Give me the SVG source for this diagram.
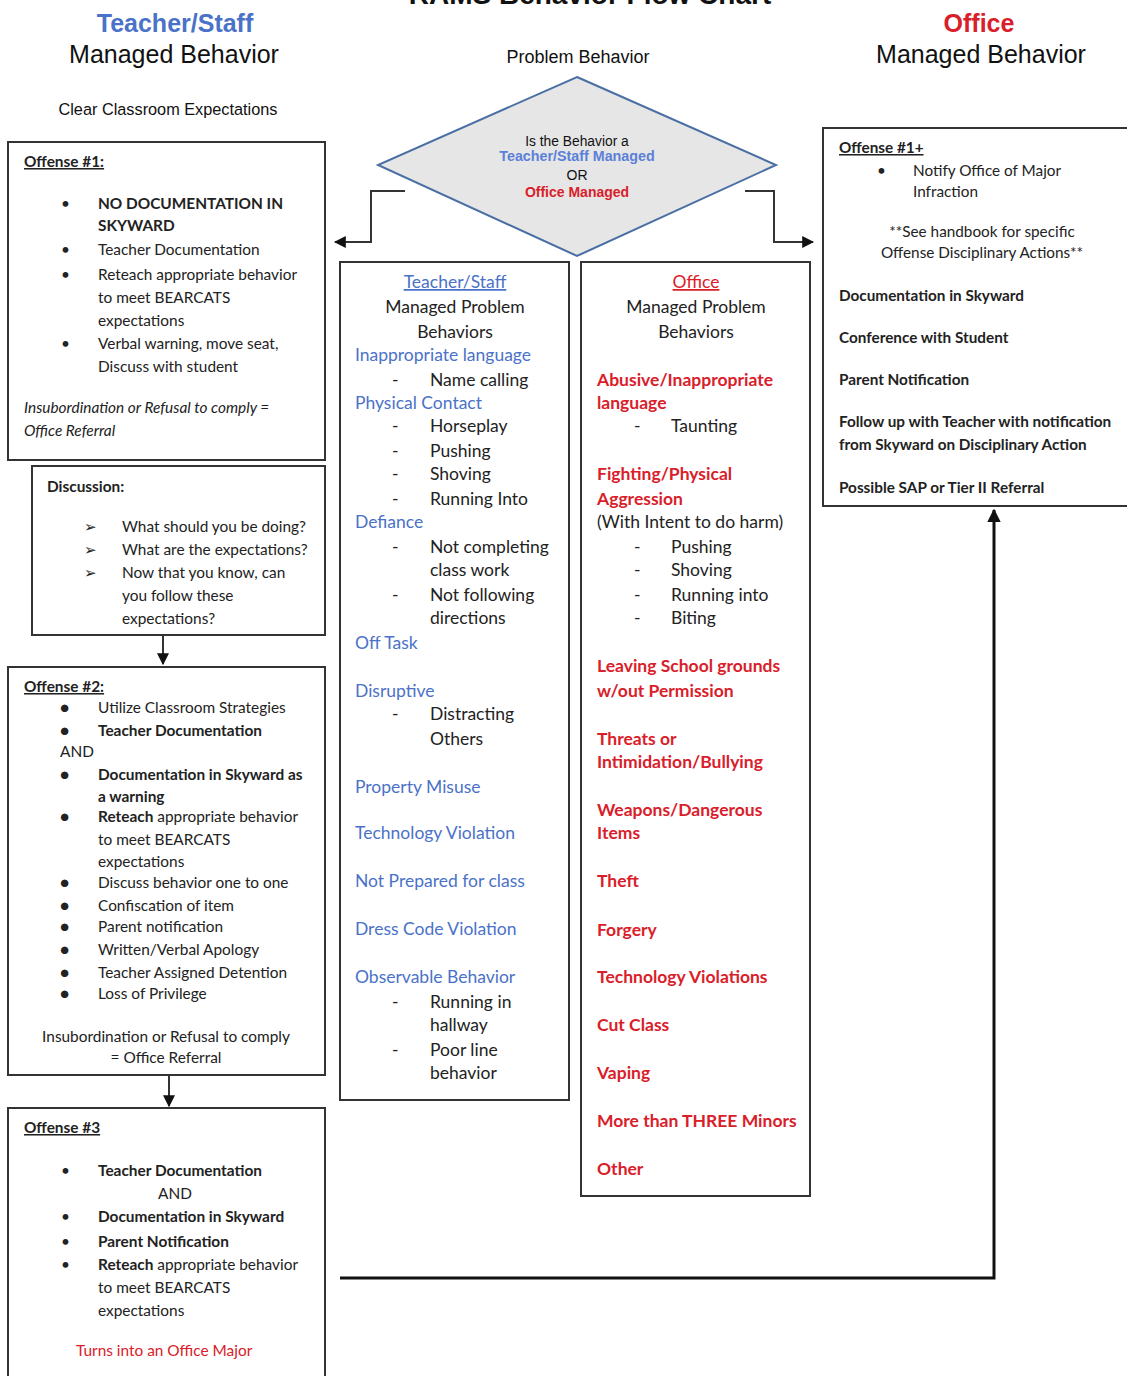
<svg xmlns="http://www.w3.org/2000/svg" width="1127" height="1376" viewBox="0 0 1127 1376">
<defs>
<style>
.bg{fill:#ffffff}
.box{fill:#ffffff;stroke:#333333;stroke-width:2}
.ar{font-family:"Liberation Sans",Arial,sans-serif;fill:#111}
.c{font-family:Lato,"Open Sans",sans-serif;fill:#222}
.s14{font-size:15.4px}
.s16{font-size:17.5px}
.b{font-weight:bold}
.i{font-style:italic}
.u{text-decoration:underline}
.blue{fill:#4a72c8}
.red{fill:#d9202a}
.mid{text-anchor:middle}
.conn{fill:none;stroke:#333333;stroke-width:2}
.conn3{fill:none;stroke:#111111;stroke-width:3}
</style>
<marker id="ah" viewBox="0 0 10 10" refX="9" refY="5" markerWidth="6" markerHeight="6" orient="auto-start-reverse" markerUnits="strokeWidth">
<path d="M0,0 L10,5 L0,10 z" fill="#111"/>
</marker>
<marker id="ah3" viewBox="0 0 10 10" refX="9" refY="5" markerWidth="4.5" markerHeight="4.5" orient="auto" markerUnits="strokeWidth">
<path d="M0,0 L10,5 L0,10 z" fill="#111"/>
</marker>
</defs>
<rect class="bg" x="0" y="0" width="1127" height="1376"/>

<g id="title">
<text class="ar b" x="590" y="4" font-size="28" text-anchor="middle">RAMS Behavior Flow Chart</text>
</g>

<g id="header-left">
<text class="ar b" x="175" y="32" font-size="25" text-anchor="middle" style="fill:#4a72c8">Teacher/Staff</text>
<text class="ar" x="174" y="63" font-size="25" text-anchor="middle">Managed Behavior</text>
<text class="ar" x="168" y="115" font-size="16.3" text-anchor="middle">Clear Classroom Expectations</text>
</g>

<g id="header-mid">
<text class="ar" x="578" y="63" font-size="18" text-anchor="middle">Problem Behavior</text>
</g>

<g id="header-right">
<text class="ar b" x="979" y="32" font-size="25" text-anchor="middle" style="fill:#d9202a">Office</text>
<text class="ar" x="981" y="63" font-size="25" text-anchor="middle">Managed Behavior</text>
</g>

<g id="decision">
<polygon points="577,77 776,165 577,256 378,165" fill="#e6e6e6" stroke="#4a6fa5" stroke-width="2"/>
<text class="ar" x="577" y="146" font-size="13.8" text-anchor="middle">Is the Behavior a</text>
<text class="ar b" x="577" y="161" font-size="14.3" text-anchor="middle" style="fill:#5b80d8">Teacher/Staff Managed</text>
<text class="ar" x="577" y="180" font-size="14" text-anchor="middle">OR</text>
<text class="ar b" x="577" y="197" font-size="14" text-anchor="middle" style="fill:#d9202a">Office Managed</text>
</g>

<g id="connectors">
<polyline class="conn" points="405,191 371,191 371,242 335,242" marker-end="url(#ah)"/>
<polyline class="conn" points="745,191 774,191 774,242 813,242" marker-end="url(#ah)"/>
<line class="conn" x1="163" y1="635" x2="163" y2="664" marker-end="url(#ah)"/>
<line class="conn" x1="169" y1="1075" x2="169" y2="1106" marker-end="url(#ah)"/>
<polyline class="conn3" points="340,1278 994,1278 994,510" marker-end="url(#ah3)"/>
</g>

<g id="offense1">
<rect class="box" x="8" y="142" width="317" height="318"/>
<text class="c s14 b u" x="24" y="167">Offense #1:</text>
<text class="c s14" x="61" y="209">•</text>
<text class="c s14 b" x="98" y="209">NO DOCUMENTATION IN</text>
<text class="c s14 b" x="98" y="231">SKYWARD</text>
<text class="c s14" x="61" y="255">•</text>
<text class="c s14" x="98" y="255">Teacher Documentation</text>
<text class="c s14" x="61" y="280">•</text>
<text class="c s14" x="98" y="280">Reteach appropriate behavior</text>
<text class="c s14" x="98" y="303">to meet BEARCATS</text>
<text class="c s14" x="98" y="326">expectations</text>
<text class="c s14" x="61" y="349">•</text>
<text class="c s14" x="98" y="349">Verbal warning, move seat,</text>
<text class="c s14" x="98" y="372">Discuss with student</text>
<text class="c s14 i" x="24" y="413">Insubordination or Refusal to comply =</text>
<text class="c s14 i" x="24" y="436">Office Referral</text>
</g>

<g id="discussion">
<rect class="box" x="32" y="466" width="293" height="169"/>
<text class="c s14 b" x="47" y="492">Discussion:</text>
<text class="c s14" x="84" y="532">➢</text>
<text class="c s14" x="122" y="532">What should you be doing?</text>
<text class="c s14" x="84" y="555">➢</text>
<text class="c s14" x="122" y="555">What are the expectations?</text>
<text class="c s14" x="84" y="578">➢</text>
<text class="c s14" x="122" y="578">Now that you know, can</text>
<text class="c s14" x="122" y="601">you follow these</text>
<text class="c s14" x="122" y="624">expectations?</text>
</g>

<g id="offense2">
<rect class="box" x="8" y="667" width="317" height="408"/>
<text class="c s14 b u" x="24" y="692">Offense #2:</text>
<g class="c s14">
<text x="60" y="713">●</text><text x="98" y="713">Utilize Classroom Strategies</text>
<text x="60" y="736">●</text><text class="b" x="98" y="736">Teacher Documentation</text>
<text x="60" y="757">AND</text>
<text x="60" y="780">●</text><text class="b" x="98" y="780">Documentation in Skyward as</text>
<text class="b" x="98" y="802">a warning</text>
<text x="60" y="822">●</text><text x="98" y="822"><tspan class="b">Reteach</tspan> appropriate behavior</text>
<text x="98" y="845">to meet BEARCATS</text>
<text x="98" y="867">expectations</text>
<text x="60" y="888">●</text><text x="98" y="888">Discuss behavior one to one</text>
<text x="60" y="911">●</text><text x="98" y="911">Confiscation of item</text>
<text x="60" y="932">●</text><text x="98" y="932">Parent notification</text>
<text x="60" y="955">●</text><text x="98" y="955">Written/Verbal Apology</text>
<text x="60" y="978">●</text><text x="98" y="978">Teacher Assigned Detention</text>
<text x="60" y="999">●</text><text x="98" y="999">Loss of Privilege</text>
<text x="166" y="1042" text-anchor="middle">Insubordination or Refusal to comply</text>
<text x="166" y="1063" text-anchor="middle">= Office Referral</text>
</g>
</g>

<g id="offense3">
<rect class="box" x="8" y="1108" width="317" height="290"/>
<g class="c s14">
<text class="b u" x="24" y="1133">Offense #3</text>
<text x="61" y="1176">•</text><text class="b" x="98" y="1176">Teacher Documentation</text>
<text x="158" y="1199">AND</text>
<text x="61" y="1222">•</text><text class="b" x="98" y="1222">Documentation in Skyward</text>
<text x="61" y="1247">•</text><text class="b" x="98" y="1247">Parent Notification</text>
<text x="61" y="1270">•</text><text x="98" y="1270"><tspan class="b">Reteach</tspan> appropriate behavior</text>
<text x="98" y="1293">to meet BEARCATS</text>
<text x="98" y="1316">expectations</text>
<text class="red" x="76" y="1356">Turns into an Office Major</text>
</g>
</g>

<g id="teacher-behaviors">
<rect class="box" x="340" y="262" width="229" height="838"/>
<g class="c s16">
<text class="blue u mid" x="455" y="288">Teacher/Staff</text>
<text class="mid" x="455" y="313">Managed Problem</text>
<text class="mid" x="455" y="338">Behaviors</text>
<text class="blue" x="355" y="361">Inappropriate language</text>
<text x="392" y="386">-</text><text x="430" y="386">Name calling</text>
<text class="blue" x="355" y="409">Physical Contact</text>
<text x="392" y="432">-</text><text x="430" y="432">Horseplay</text>
<text x="392" y="457">-</text><text x="430" y="457">Pushing</text>
<text x="392" y="480">-</text><text x="430" y="480">Shoving</text>
<text x="392" y="505">-</text><text x="430" y="505">Running Into</text>
<text class="blue" x="355" y="528">Defiance</text>
<text x="392" y="553">-</text><text x="430" y="553">Not completing</text>
<text x="430" y="576">class work</text>
<text x="392" y="601">-</text><text x="430" y="601">Not following</text>
<text x="430" y="624">directions</text>
<text class="blue" x="355" y="649">Off Task</text>
<text class="blue" x="355" y="697">Disruptive</text>
<text x="392" y="720">-</text><text x="430" y="720">Distracting</text>
<text x="430" y="745">Others</text>
<text class="blue" x="355" y="793">Property Misuse</text>
<text class="blue" x="355" y="839">Technology Violation</text>
<text class="blue" x="355" y="887">Not Prepared for class</text>
<text class="blue" x="355" y="935">Dress Code Violation</text>
<text class="blue" x="355" y="983">Observable Behavior</text>
<text x="392" y="1008">-</text><text x="430" y="1008">Running in</text>
<text x="430" y="1031">hallway</text>
<text x="392" y="1056">-</text><text x="430" y="1056">Poor line</text>
<text x="430" y="1079">behavior</text>
</g>
</g>

<g id="office-behaviors">
<rect class="box" x="581" y="262" width="229" height="934"/>
<g class="c s16">
<text class="red u mid" x="696" y="288">Office</text>
<text class="mid" x="696" y="313">Managed Problem</text>
<text class="mid" x="696" y="338">Behaviors</text>
<text class="red b" x="597" y="386">Abusive/Inappropriate</text>
<text class="red b" x="597" y="409">language</text>
<text x="634" y="432">-</text><text x="671" y="432">Taunting</text>
<text class="red b" x="597" y="480">Fighting/Physical</text>
<text class="red b" x="597" y="505">Aggression</text>
<text x="597" y="528">(With Intent to do harm)</text>
<text x="634" y="553">-</text><text x="671" y="553">Pushing</text>
<text x="634" y="576">-</text><text x="671" y="576">Shoving</text>
<text x="634" y="601">-</text><text x="671" y="601">Running into</text>
<text x="634" y="624">-</text><text x="671" y="624">Biting</text>
<text class="red b" x="597" y="672">Leaving School grounds</text>
<text class="red b" x="597" y="697">w/out Permission</text>
<text class="red b" x="597" y="745">Threats or</text>
<text class="red b" x="597" y="768">Intimidation/Bullying</text>
<text class="red b" x="597" y="816">Weapons/Dangerous</text>
<text class="red b" x="597" y="839">Items</text>
<text class="red b" x="597" y="887">Theft</text>
<text class="red b" x="597" y="936">Forgery</text>
<text class="red b" x="597" y="983">Technology Violations</text>
<text class="red b" x="597" y="1031">Cut Class</text>
<text class="red b" x="597" y="1079">Vaping</text>
<text class="red b" x="597" y="1127">More than THREE Minors</text>
<text class="red b" x="597" y="1175">Other</text>
</g>
</g>

<g id="office-actions">
<rect class="box" x="823" y="128" width="320" height="378"/>
<g class="c" font-size="15.3">
<text class="b u" x="839" y="153">Offense #1+</text>
<text x="877" y="176">•</text><text x="913" y="176">Notify Office of Major</text>
<text x="913" y="197">Infraction</text>
<text x="982" y="237" text-anchor="middle">**See handbook for specific</text>
<text x="982" y="258" text-anchor="middle">Offense Disciplinary Actions**</text>
<text class="b" x="839" y="301">Documentation in Skyward</text>
<text class="b" x="839" y="343">Conference with Student</text>
<text class="b" x="839" y="385">Parent Notification</text>
<text class="b" x="839" y="427">Follow up with Teacher with notification</text>
<text class="b" x="839" y="450">from Skyward on Disciplinary Action</text>
<text class="b" x="839" y="493">Possible SAP or Tier II Referral</text>
</g>
</g>
</svg>
